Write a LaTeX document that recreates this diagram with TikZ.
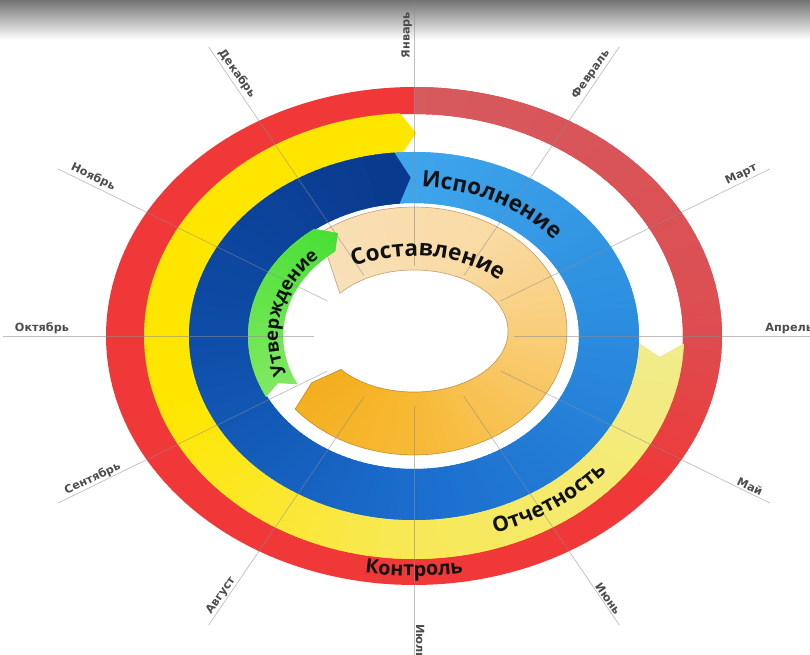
\documentclass[tikz,border=0pt]{standalone}
\usepackage{fontspec}
\setmainfont{DejaVu Sans}
\newfontfamily\bigfont{Open Sans}
\newfontfamily\mfont{DejaVu Sans}
\usetikzlibrary{decorations.text}

\definecolor{redB}{HTML}{F03838}
\definecolor{redP}{HTML}{D65A5E}
\definecolor{redP2}{HTML}{DC4E52}
\definecolor{ylwA}{HTML}{FFE600}
\definecolor{ylwB}{HTML}{F8E853}
\definecolor{ylwC}{HTML}{F1EC8E}
\definecolor{bluL}{HTML}{3FA6EC}
\definecolor{bluM}{HTML}{2D8FE0}
\definecolor{bluB}{HTML}{1B6DCD}
\definecolor{bluD}{HTML}{0E4DA8}
\definecolor{bluN}{HTML}{0A3A8D}
\definecolor{grnA}{HTML}{45DF33}
\definecolor{grnT}{HTML}{84E964}
\definecolor{orA}{HTML}{F8E0BA}
\definecolor{orB}{HTML}{F9DBA5}
\definecolor{orC}{HTML}{F9CE7B}
\definecolor{orD}{HTML}{F7B935}
\definecolor{orE}{HTML}{F4AE1D}
\definecolor{txt}{HTML}{111111}
\definecolor{lblgray}{HTML}{4D4D4D}

\newcommand\bigtxt[1]{\bigfont\bfseries\fontsize{#1}{#1}\selectfont\color{txt}}

% gradient wedges: cx cy tfrom tto colfrom colto
\newcommand\gradwedges[6]{%
  \pgfmathsetmacro\gwD{(#4)-(#3)}%
  \pgfmathtruncatemacro\gwN{max(1,round(abs(\gwD)/2))}%
  \pgfmathsetmacro\gwLo{min(#3,#4)}%
  \pgfmathsetmacro\gwHi{max(#3,#4)}%
  \foreach \gi in {0,...,\gwN}{%
    \pgfmathsetmacro\gwA{min(max(#3+\gwD*(\gi-0.6)/\gwN,\gwLo),\gwHi)}%
    \pgfmathsetmacro\gwB{min(max(#3+\gwD*(\gi+0.6)/\gwN,\gwLo),\gwHi)}%
    \pgfmathsetmacro\gwM{(\gwA+\gwB)/2}%
    \pgfmathtruncatemacro\gwP{round(100*(1-\gi/\gwN))}%
    \fill[#5!\gwP!#6] (#1,#2) -- ({#1+480*cos(\gwA)},{#2+390*sin(\gwA)})
      -- ({#1+480*cos(\gwM)},{#2+390*sin(\gwM)})
      -- ({#1+480*cos(\gwB)},{#2+390*sin(\gwB)}) -- cycle;
  }%
}

\begin{document}
\begin{tikzpicture}[x=0.025cm, y=0.025cm,
  spoke/.style={draw=black!45, line width=0.5pt, opacity=0.55},
  monthlbl/.style={font=\mfont\bfseries\fontsize{8}{9}\selectfont, text=lblgray, inner sep=1.2pt},
  orline/.style={draw=orange!45!black, line width=0.5pt, opacity=0.35}
]
\useasboundingbox (-414,-319) rectangle (396,336);
\fill[white] (-414,-319) rectangle (396,336);
\shade[top color=black!55, bottom color=white] (-414,296) rectangle (396,336);

% ---------- red ring (Kontrol) ----------
\begin{scope}[even odd rule]
\clip plot[domain=0:360,samples=181] ({308*cos(\x)},{249*sin(\x)}) -- cycle
  plot[domain=0:360,samples=181] ({269*cos(\x)},{222*sin(\x)}) -- cycle;
\fill[redB] (-320,-260) rectangle (320,260);
\gradwedges{0}{0}{90}{5}{redP}{redP2}
\gradwedges{0}{0}{5}{-40}{redP2}{redB}
\end{scope}

% ---------- yellow ring (Otchetnost) ----------
\begin{scope}
\clip plot[domain=358:93,samples=140] ({270*cos(\x)},{223*sin(\x)})
  -- ({247*cos(89.5)},{203*sin(89.5)})
  -- plot[domain=93:358,samples=140] ({224*cos(\x)},{183*sin(\x)})
  -- ({247*cos(354)},{203*sin(354)}) -- cycle;
\fill[ylwA] (-280,-230) rectangle (280,230);
\gradwedges{0}{0}{200}{265}{ylwA}{ylwB}
\gradwedges{0}{0}{265}{360}{ylwB}{ylwC}
\end{scope}

% ---------- blue ring (Ispolnenie) ----------
\begin{scope}[even odd rule]
\clip plot[domain=0:360,samples=181] ({225*cos(\x)},{184*sin(\x)}) -- cycle
  plot[domain=0:360,samples=181] ({165*cos(\x)},{133*sin(\x)}) -- cycle;
\fill[bluL] (-240,-200) rectangle (240,200);
\gradwedges{0}{0}{95}{10}{bluL}{bluM}
\gradwedges{0}{0}{10}{-90}{bluM}{bluB}
\gradwedges{0}{0}{-90}{-180}{bluB}{bluD}
\gradwedges{0}{0}{-180}{-265}{bluD}{bluN}
\fill[bluN] ({240*cos(103)},{196*sin(103)}) -- ({240*cos(95)},{196*sin(95)})
  -- ({225*cos(95)},{184*sin(95)}) -- ({195*cos(91)},{158.5*sin(91)})
  -- ({165*cos(95)},{133*sin(95)}) -- ({150*cos(95)},{120*sin(95)})
  -- ({150*cos(103)},{120*sin(103)}) -- cycle;
\end{scope}

% ---------- orange ring (Sostavlenie) ----------
\begin{scope}
\clip plot[domain=128:-141,samples=150] ({153*cos(\x)},{5+124*sin(\x)})
  -- ({123.5*cos(-146)},{5+92.5*sin(-146)})
  -- plot[domain=-141:142,samples=150] ({94*cos(\x)},{5+61*sin(\x)}) -- cycle;
\fill[orA] (-160,-130) rectangle (160,140);
\gradwedges{0}{5}{145}{60}{orA}{orB}
\gradwedges{0}{5}{60}{0}{orB}{orC}
\gradwedges{0}{5}{0}{-90}{orC}{orD}
\gradwedges{0}{5}{-90}{-150}{orD}{orE}
\end{scope}
\path[orline] plot[domain=128:-141,samples=150] ({153*cos(\x)},{5+124*sin(\x)})
  -- ({123.5*cos(-146)},{5+92.5*sin(-146)})
  -- plot[domain=-141:142,samples=150] ({94*cos(\x)},{5+61*sin(\x)}) -- cycle;

% ---------- green arc (Utverzhdenie) ----------
\begin{scope}
\clip plot[domain=207:127,samples=60] ({166*cos(\x)},{134*sin(\x)})
  -- ({148*cos(121)},{120*sin(121)})
  -- plot[domain=127:207,samples=60] ({131*cos(\x)},{106*sin(\x)})
  -- ({148*cos(203)},{120*sin(203)}) -- cycle;
\fill[grnA] (-180,-140) rectangle (0,140);
\gradwedges{0}{0}{210}{118}{grnT}{grnA}
\end{scope}

% ---------- spokes ----------
\foreach \t in {0,30,...,330}{
  \draw[spoke] ({100*cos(\t)},{70*sin(\t)}) -- ({1.23*334*cos(\t)},{334*sin(\t)});
}

% ---------- ring labels ----------
\path[decorate, decoration={text along path, text align=center,
  text={|\bigtxt{16}|Исполнение}}]
  plot[domain=100:26,samples=80] ({183*cos(\x)},{149*sin(\x)});
\path[decorate, decoration={text along path, text align=center,
  text={|\bigtxt{16}|Составление}}]
  plot[domain=145:15,samples=100] ({115*cos(\x)},{5+75*sin(\x)});
\path[decorate, decoration={text along path, text align=center,
  text={|\bigtxt{15}|Отчетность}}]
  plot[domain=-97:-11,samples=90] ({254*cos(\x)},{208*sin(\x)});
\path[decorate, decoration={text along path, text align=center,
  text={|\bigtxt{14}|Контроль}}]
  plot[domain=235:305,samples=80] ({294*cos(\x)},{240*sin(\x)});
\path[decorate, decoration={text along path, text align=center,
  text={|\bigtxt{13}|Утверждение}}]
  plot[domain=220:116,samples=100] ({136*cos(\x)},{110*sin(\x)});

% ---------- month labels ----------
\foreach \m/\t/\n in {Январь/90/m1, Февраль/60/m2, Март/30/m3, Апрель/0/m4,
                      Май/-30/m5, Июнь/-60/m6, Июль/-90/m7}{
  \pgfmathsetmacro\rot{atan2(sin(\t),1.23*cos(\t))}
  \node[monthlbl, rotate=\rot, anchor=south east] (\n) at ({1.23*326*cos(\t)},{326*sin(\t)}) {\m};
}
\foreach \m/\t/\n in {Август/240/m8, Сентябрь/210/m9, Октябрь/180/m10,
                      Ноябрь/150/m11, Декабрь/120/m12}{
  \pgfmathsetmacro\rot{atan2(sin(\t),1.23*cos(\t))+180}
  \node[monthlbl, rotate=\rot, anchor=south west] (\n) at ({1.23*326*cos(\t)},{326*sin(\t)}) {\m};
}
\end{tikzpicture}
\end{document}
